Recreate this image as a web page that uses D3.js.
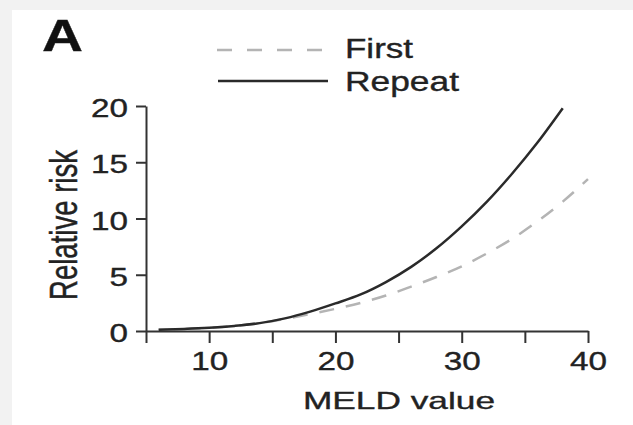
<!DOCTYPE html>
<html>
<head>
<meta charset="utf-8">
<script src="https://cdn.jsdelivr.net/npm/d3@7"></script>
<style>
body{margin:0;background:#f2f2f2;}
svg{display:block;}
text{stroke:#222;stroke-width:0.35px;}
</style>
</head>
<body>
<script>
//dane
var wartosciMELD=[6,8,10,12,14,16,18,20,22,24,26,28,30,32,34,36,38,40];
var ryzykoPierwszy=[0.12,0.18,0.28,0.45,0.7,1.08,1.5,1.97,2.5,3.15,3.95,4.8,5.75,6.9,8.2,9.75,11.5,13.5];
var ryzykoPowtorny=[0.12,0.18,0.28,0.45,0.7,1.12,1.72,2.45,3.25,4.35,5.7,7.35,9.3,11.5,14.0,16.75,19.8,null];
var tickiX=[5,10,15,20,25,30,35,40];
var etykietyX=[10,20,30,40];
var tickiY=[0,5,10,15,20];
var nazwySerii=["First","Repeat"];

var czcionka="'Liberation Sans', Arial, Helvetica, sans-serif";

var wykres=d3.select("body").append("svg")
	.attr("width",633)
	.attr("height",425);

//tlo
wykres.append("rect").attr("width",633).attr("height",425).style("fill","#f2f2f2");
wykres.append("rect").attr("x",12).attr("y",10).attr("width",621).attr("height",415).style("fill","white");

var skalaX=d3.scaleLinear().domain([5,40]).range([146,588]);
var skalaY=d3.scaleLinear().domain([0,20]).range([331,106]);

//os x
var osX=wykres.append("g").attr("transform","translate(0,331)")
	.call(d3.axisBottom(skalaX)
		.tickValues(tickiX)
		.tickSize(12)
		.tickSizeOuter(0)
		.tickPadding(9)
		.tickFormat(function(d){return etykietyX.indexOf(d)>=0 ? d : "";}));
//os y
var osY=wykres.append("g").attr("transform","translate(146,0)")
	.call(d3.axisLeft(skalaY)
		.tickValues(tickiY)
		.tickSize(10)
		.tickSizeOuter(0)
		.tickPadding(8));

[osX,osY].forEach(function(os)
{
	os.select(".domain").style("stroke","#333").style("stroke-width",2);
	os.selectAll(".tick line").style("stroke","#333").style("stroke-width",2);
	os.selectAll(".tick text")
		.style("font-family",czcionka)
		.style("font-size","25px")
		.style("fill","#222")
		.attr("lengthAdjust","spacingAndGlyphs")
		.attr("textLength",function(d){return String(d).length*18.5;});
});
osY.selectAll(".tick text").attr("dy","0.42em");

//krzywe
var linia=d3.line()
	.defined(function(d){return d[1]!==null;})
	.x(function(d){return skalaX(d[0]);})
	.y(function(d){return skalaY(d[1]);})
	.curve(d3.curveMonotoneX);

wykres.append("path")
	.attr("d",linia(wartosciMELD.map(function(m,i){return [m,ryzykoPierwszy[i]];})))
	.style("fill","none")
	.style("stroke","#b4b4b4")
	.style("stroke-width",2.5)
	.style("stroke-dasharray","15,12");

wykres.append("path")
	.attr("d",linia(wartosciMELD.map(function(m,i){return [m,ryzykoPowtorny[i]];})))
	.style("fill","none")
	.style("stroke","#2a2a2a")
	.style("stroke-width",2.5);

//legenda
wykres.append("line").attr("x1",217).attr("x2",327).attr("y1",50).attr("y2",50)
	.style("stroke","#b4b4b4").style("stroke-width",2.5).style("stroke-dasharray","15,15");
wykres.append("line").attr("x1",218).attr("x2",328).attr("y1",81).attr("y2",81)
	.style("stroke","#2a2a2a").style("stroke-width",2.5);
wykres.append("text").attr("x",345).attr("y",58).text(nazwySerii[0])
	.style("font-family",czcionka).style("font-size","27px").style("fill","#222")
	.attr("lengthAdjust","spacingAndGlyphs").attr("textLength",68);
wykres.append("text").attr("x",345).attr("y",91).text(nazwySerii[1])
	.style("font-family",czcionka).style("font-size","27px").style("fill","#222")
	.attr("lengthAdjust","spacingAndGlyphs").attr("textLength",114);

//opisy osi
wykres.append("text").attr("x",399).attr("y",409).text("MELD value")
	.style("font-family",czcionka).style("font-size","24px").style("fill","#222")
	.style("text-anchor","middle")
	.attr("lengthAdjust","spacingAndGlyphs").attr("textLength",192);
wykres.append("text").attr("transform","translate(77,225) scale(1.45,1) rotate(-90)")
	.text("Relative risk")
	.style("font-family",czcionka).style("font-size","27px").style("fill","#222")
	.style("text-anchor","middle")
	.attr("lengthAdjust","spacingAndGlyphs").attr("textLength",150);

//litera panelu
wykres.append("text").attr("x",42).attr("y",51).text("A")
	.style("font-family",czcionka).style("font-size","45px").style("font-weight","bold").style("fill","#111")
	.attr("lengthAdjust","spacingAndGlyphs").attr("textLength",41);
</script>
</body>
</html>
